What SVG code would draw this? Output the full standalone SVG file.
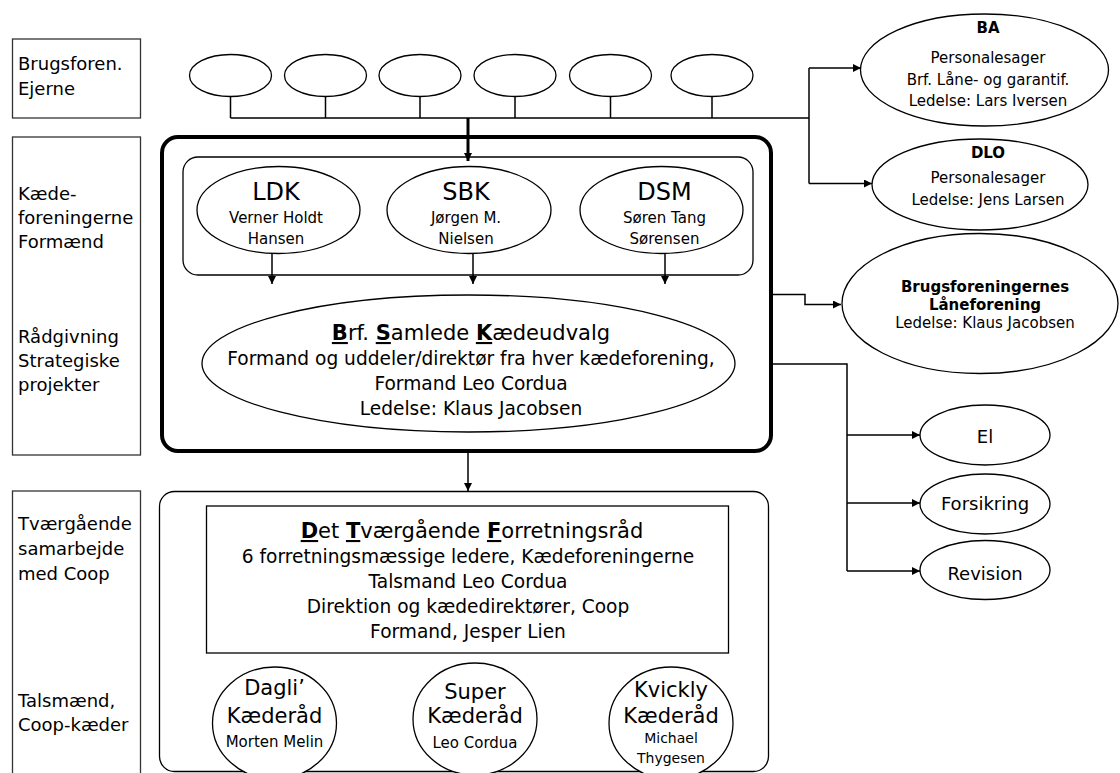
<svg xmlns="http://www.w3.org/2000/svg" width="1120" height="773" viewBox="0 0 1120 773">
<style>
text{font-family:"DejaVu Sans","Liberation Sans",sans-serif;fill:#000}
.lbl{font-size:18px}
.s15{font-size:15px}
.s14{font-size:14px}
.s18{font-size:18px}
.s186{font-size:18.6px}
.s21{font-size:21px}
.s24{font-size:24px}
.b{font-weight:bold}
.u{font-weight:bold;text-decoration:underline}
.c{text-anchor:middle}
.shape{fill:#fff;stroke:#000;stroke-width:1.3}
.box{fill:#fff;stroke:#333;stroke-width:1.3}
.ln{fill:none;stroke:#000;stroke-width:1.5}
</style>
<defs>
<marker id="ah" viewBox="0 0 10 10" refX="10" refY="5" markerWidth="10" markerHeight="8" markerUnits="userSpaceOnUse" orient="auto">
<path d="M0,0 L10,5 L0,10 z" fill="#000"/>
</marker>
</defs>
<rect width="1120" height="773" fill="#fff"/>

<g id="labels">
<g id="lab-ejere"><rect class="box" x="12.5" y="39" width="128" height="79"/>
<text class="lbl" x="18" y="70">Brugsforen.</text><text class="lbl" x="18" y="95">Ejerne</text></g>
<g id="lab-kaede"><rect class="box" x="12.5" y="137" width="128" height="318"/>
<text class="lbl" x="18" y="200">Kæde-</text><text class="lbl" x="18" y="224">foreningerne</text><text class="lbl" x="18" y="248">Formænd</text>
<text class="lbl" x="18" y="343">Rådgivning</text><text class="lbl" x="18" y="367">Strategiske</text><text class="lbl" x="18" y="391">projekter</text></g>
<g id="lab-coop"><rect class="box" x="12.5" y="491" width="128" height="300"/>
<text class="lbl" x="18" y="530">Tværgående</text><text class="lbl" x="18" y="555">samarbejde</text><text class="lbl" x="18" y="580">med Coop</text>
<text class="lbl" x="18" y="707">Talsmænd,</text><text class="lbl" x="18" y="731">Coop-kæder</text></g>
</g>

<g id="owners">
<ellipse class="shape" cx="230.5" cy="75.5" rx="41" ry="21"/>
<ellipse class="shape" cx="325.5" cy="75.5" rx="41" ry="21"/>
<ellipse class="shape" cx="420" cy="75.5" rx="41" ry="21"/>
<ellipse class="shape" cx="515" cy="75.5" rx="41" ry="21"/>
<ellipse class="shape" cx="610.5" cy="75.5" rx="41" ry="21"/>
<ellipse class="shape" cx="712" cy="75.5" rx="41" ry="21"/>
</g>

<g id="outer-box"><rect x="162" y="137" width="609" height="314" rx="16" fill="none" stroke="#000" stroke-width="4"/></g>
<g id="chains">
<rect class="shape" x="183" y="157" width="570" height="118" rx="15"/>
<g id="ldk"><ellipse class="shape" cx="278.5" cy="210" rx="81.5" ry="43.5"/>
<text class="s24 c" x="276" y="200">LDK</text><text class="s15 c" x="276" y="223">Verner Holdt</text><text class="s15 c" x="276" y="244">Hansen</text></g>
<g id="sbk"><ellipse class="shape" cx="469" cy="210" rx="82" ry="43.5"/>
<text class="s24 c" x="466" y="200">SBK</text><text class="s15 c" x="466" y="223">Jørgen M.</text><text class="s15 c" x="466" y="244">Nielsen</text></g>
<g id="dsm"><ellipse class="shape" cx="661.5" cy="210" rx="81.5" ry="43.5"/>
<text class="s24 c" x="664.5" y="200">DSM</text><text class="s15 c" x="664.5" y="223">Søren Tang</text><text class="s15 c" x="664.5" y="244">Sørensen</text></g>
</g>

<g id="samlede"><ellipse class="shape" cx="468.5" cy="363.5" rx="266.5" ry="68.5"/>
<text class="s21 c" x="471" y="340"><tspan class="u">B</tspan>rf. <tspan class="u">S</tspan>amlede <tspan class="u">K</tspan>ædeudvalg</text>
<text class="s186 c" x="471" y="365">Formand og uddeler/direktør fra hver kædeforening,</text>
<text class="s186 c" x="471" y="390">Formand Leo Cordua</text>
<text class="s186 c" x="471" y="415">Ledelse: Klaus Jacobsen</text></g>

<g id="ba"><ellipse class="shape" cx="984.5" cy="70" rx="124" ry="56"/>
<text class="s15 c b" x="988" y="33">BA</text><text class="s15 c" x="988" y="63">Personalesager</text><text class="s15 c" x="988" y="85">Brf. Låne- og garantif.</text><text class="s15 c" x="988" y="106">Ledelse: Lars Iversen</text></g>
<g id="dlo"><ellipse class="shape" cx="980" cy="184.5" rx="108" ry="45.5"/>
<text class="s15 c b" x="988" y="158">DLO</text><text class="s15 c" x="988" y="183">Personalesager</text><text class="s15 c" x="988" y="205">Ledelse: Jens Larsen</text></g>
<g id="laane"><ellipse class="shape" cx="980" cy="303.5" rx="138" ry="70"/>
<text class="s15 c b" x="985" y="292">Brugsforeningernes</text><text class="s15 c b" x="985" y="310">Låneforening</text><text class="s15 c" x="985" y="328">Ledelse: Klaus Jacobsen</text></g>
<g id="el"><ellipse class="shape" cx="985" cy="435" rx="65" ry="30"/><text class="s18 c" x="985" y="443">El</text></g>
<g id="forsikring"><ellipse class="shape" cx="985" cy="504" rx="65" ry="30"/><text class="s18 c" x="985" y="510">Forsikring</text></g>
<g id="revision"><ellipse class="shape" cx="985" cy="570" rx="65" ry="29.5"/><text class="s18 c" x="985" y="580">Revision</text></g>

<g id="coop-box"><rect class="shape" x="159.5" y="491.5" width="609" height="280" rx="15"/></g>
<g id="forretningsraad"><rect class="shape" x="206.5" y="506" width="522" height="147"/>
<text class="s21 c" x="472" y="538"><tspan class="u">D</tspan>et <tspan class="u">T</tspan>værgående <tspan class="u">F</tspan>orretningsråd</text>
<text class="s186 c" x="468" y="563">6 forretningsmæssige ledere, Kædeforeningerne</text>
<text class="s186 c" x="468" y="588">Talsmand Leo Cordua</text>
<text class="s186 c" x="468" y="613">Direktion og kædedirektører, Coop</text>
<text class="s186 c" x="468" y="638">Formand, Jesper Lien</text></g>
<g id="dagli"><ellipse class="shape" cx="274.5" cy="723" rx="62" ry="56"/>
<text class="s21 c" x="274.5" y="695">Dagli’</text><text class="s21 c" x="274.5" y="723">Kæderåd</text><text class="s15 c" x="274.5" y="747">Morten Melin</text></g>
<g id="super"><ellipse class="shape" cx="475" cy="719" rx="62" ry="56"/>
<text class="s21 c" x="475" y="699">Super</text><text class="s21 c" x="475" y="723">Kæderåd</text><text class="s15 c" x="475" y="748">Leo Cordua</text></g>
<g id="kvickly"><ellipse class="shape" cx="671" cy="723" rx="62" ry="56"/>
<text class="s21 c" x="671" y="697">Kvickly</text><text class="s21 c" x="671" y="723">Kæderåd</text><text class="s14 c" x="671" y="743">Michael</text><text class="s14 c" x="671" y="763">Thygesen</text></g>

<g id="connectors">
<path class="ln" stroke-width="2" d="M230.5,96.5V118 M325.5,96.5V118 M420,96.5V118 M515,96.5V118 M610.5,96.5V118 M712,96.5V118 M230.5,118H809"/>
<path d="M468,118V161" fill="none" stroke="#000" stroke-width="3" marker-end="url(#ah)"/>
<path class="ln" d="M809,68V183.5"/>
<path class="ln" d="M809,68H861" marker-end="url(#ah)"/>
<path class="ln" d="M809,183.5H872" marker-end="url(#ah)"/>
<path class="ln" d="M272,253.5V284" marker-end="url(#ah)"/>
<path class="ln" d="M473,253.5V284" marker-end="url(#ah)"/>
<path class="ln" d="M665,253.5V284" marker-end="url(#ah)"/>
<path class="ln" d="M773,294.5H805V304.5H841" marker-end="url(#ah)"/>
<path class="ln" d="M773,364H847V571"/>
<path class="ln" d="M847,435H920" marker-end="url(#ah)"/>
<path class="ln" d="M847,503H920" marker-end="url(#ah)"/>
<path class="ln" d="M847,571H920" marker-end="url(#ah)"/>
<path class="ln" d="M468,451V491" marker-end="url(#ah)"/>
</g>
</svg>
